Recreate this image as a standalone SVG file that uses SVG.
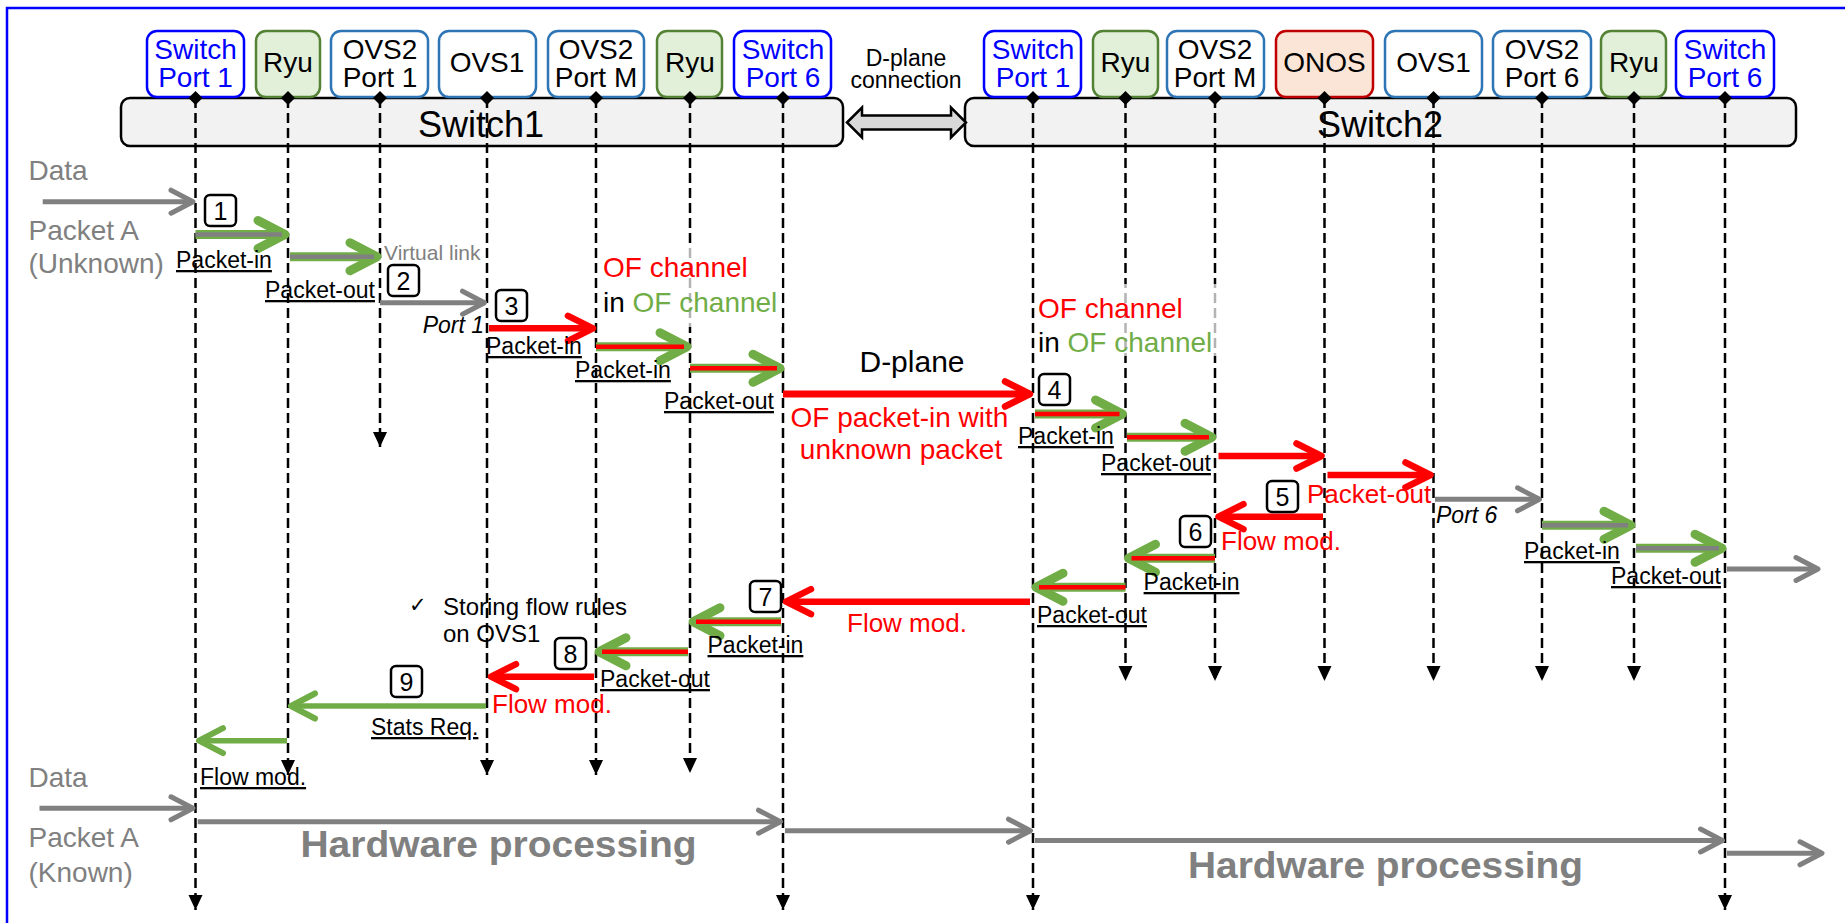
<svg xmlns="http://www.w3.org/2000/svg" width="1845" height="923" viewBox="0 0 1845 923">
<style>
text{font-family:"Liberation Sans",Arial,sans-serif}
.frame{fill:none;stroke:#0000FF;stroke-width:2.5}
.bar{fill:#F2F2F2;stroke:#000;stroke-width:2.5}
.bp{fill:#fff;stroke:#0000FF;stroke-width:2.5}
.bo{fill:#fff;stroke:#2E75B6;stroke-width:2.5}
.br{fill:#E2F0D9;stroke:#548235;stroke-width:2.5}
.bn{fill:#FBE5D6;stroke:#C00000;stroke-width:2.5}
.nt{font-size:28px;text-anchor:middle;fill:#000}
.nt.blue{fill:#0000FF}
.bt{font-size:36px;text-anchor:middle;fill:#000}
.life{stroke:#000;stroke-width:2.5;stroke-dasharray:10 5;marker-end:url(#mL)}
.dia{fill:#000}
.g9{stroke:#70AD47;stroke-width:9;marker-end:url(#mG)}
.gi{stroke:#808080;stroke-width:4.5}
.ri{stroke:#FF0000;stroke-width:4.5}
.rd{stroke:#FF0000;stroke-width:6.5;marker-end:url(#mR)}
.rd7{stroke:#FF0000;stroke-width:7;marker-end:url(#mR)}
.gy{stroke:#808080;stroke-width:5;marker-end:url(#mY)}
.gs{stroke:#70AD47;stroke-width:5.5;marker-end:url(#mS)}
.lbl{font-size:23px;fill:#000;text-decoration:underline}
.rl{font-size:26px;fill:#FF0000}
.it{font-size:23px;font-style:italic;fill:#000}
.side{font-size:28px;fill:#808080}
.num rect{fill:#fff;stroke:#000;stroke-width:2.5}
.num text{font-size:25px;text-anchor:middle;fill:#000}
.hw{font-size:36px;font-weight:bold;fill:#808080}
.of{font-size:28px}
.red{fill:#FF0000}
.grn{fill:#70AD47}
.blk{fill:#000}
.veil{fill:#fff;opacity:0.7}
</style>
<defs>
<marker id="mG" markerUnits="userSpaceOnUse" viewBox="-40 -20 44 40" markerWidth="44" markerHeight="40" refX="0" refY="0" orient="auto" overflow="visible"><path d="M-27,-14 L0,0 L-27,14" fill="none" stroke="#70AD47" stroke-width="9" stroke-linecap="round" stroke-linejoin="round"/></marker>
<marker id="mR" markerUnits="userSpaceOnUse" viewBox="-40 -20 44 40" markerWidth="44" markerHeight="40" refX="0" refY="0" orient="auto" overflow="visible"><path d="M-25,-12.5 L0,0 L-25,12.5" fill="none" stroke="#FF0000" stroke-width="6.5" stroke-linecap="round" stroke-linejoin="round"/></marker>
<marker id="mY" markerUnits="userSpaceOnUse" viewBox="-40 -20 44 40" markerWidth="44" markerHeight="40" refX="0" refY="0" orient="auto" overflow="visible"><path d="M-22,-11.5 L0,0 L-22,11.5" fill="none" stroke="#808080" stroke-width="5" stroke-linecap="round" stroke-linejoin="round"/></marker>
<marker id="mS" markerUnits="userSpaceOnUse" viewBox="-40 -20 44 40" markerWidth="44" markerHeight="40" refX="0" refY="0" orient="auto" overflow="visible"><path d="M-24,-12.5 L0,0 L-24,12.5" fill="none" stroke="#70AD47" stroke-width="6" stroke-linecap="round" stroke-linejoin="round"/></marker>
<marker id="mL" markerUnits="userSpaceOnUse" viewBox="-16 -8 17 16" markerWidth="17" markerHeight="16" refX="0" refY="0" orient="auto" overflow="visible"><path d="M-15,-7 L0,0 L-15,7 Z" fill="#000"/></marker>
</defs>

<rect class="frame" x="7" y="8" width="1850" height="930"/>

<g id="switch1"><rect class="bar" x="121" y="98" width="722" height="48" rx="9"/><text class="bt" x="481" y="137">Switch1</text></g>
<g id="switch2"><rect class="bar" x="965" y="98" width="831" height="48" rx="9"/><text class="bt" x="1380" y="137">Switch2</text></g>

<g id="dplane-connection">
<polygon points="847,122.5 862,107.5 862,115.5 951,115.5 951,107.5 966,122.5 951,137.5 951,129.5 862,129.5 862,137.5" fill="#D9D9D9" stroke="#000" stroke-width="2.5" stroke-linejoin="miter"/>
<text x="906" y="66" font-size="23" text-anchor="middle">D-plane</text>
<text x="906" y="88" font-size="23" text-anchor="middle">connection</text>
</g>

<g id="s1-port1"><rect class="bp" x="147" y="31" width="97" height="66" rx="10"/><text class="nt blue" x="195.5" y="59">Switch</text><text class="nt blue" x="195.5" y="87">Port 1</text><line class="life" x1="195.5" y1="98" x2="195.5" y2="910"/><path class="dia" d="M195.5,91 L202.5,98 L195.5,105 L188.5,98 Z"/></g>
<g id="s1-ryu-a"><rect class="br" x="256" y="31" width="64" height="66" rx="10"/><text class="nt" x="288" y="72">Ryu</text><line class="life" x1="288" y1="98" x2="288" y2="775"/><path class="dia" d="M288,91 L295,98 L288,105 L281,98 Z"/></g>
<g id="s1-ovs2-port1"><rect class="bo" x="331" y="31" width="97" height="66" rx="10"/><text class="nt" x="380" y="59">OVS2</text><text class="nt" x="380" y="87">Port 1</text><line class="life" x1="380" y1="98" x2="380" y2="447"/><path class="dia" d="M380,91 L387,98 L380,105 L373,98 Z"/></g>
<g id="s1-ovs1"><rect class="bo" x="439" y="31" width="97" height="66" rx="10"/><text class="nt" x="487" y="72">OVS1</text><line class="life" x1="487" y1="98" x2="487" y2="775"/><path class="dia" d="M487,91 L494,98 L487,105 L480,98 Z"/></g>
<g id="s1-ovs2-portm"><rect class="bo" x="548" y="31" width="96" height="66" rx="10"/><text class="nt" x="596" y="59">OVS2</text><text class="nt" x="596" y="87">Port M</text><line class="life" x1="596" y1="98" x2="596" y2="775"/><path class="dia" d="M596,91 L603,98 L596,105 L589,98 Z"/></g>
<g id="s1-ryu-b"><rect class="br" x="657" y="31" width="65" height="66" rx="10"/><text class="nt" x="690" y="72">Ryu</text><line class="life" x1="690" y1="98" x2="690" y2="773"/><path class="dia" d="M690,91 L697,98 L690,105 L683,98 Z"/></g>
<g id="s1-port6"><rect class="bp" x="734" y="31" width="97" height="66" rx="10"/><text class="nt blue" x="783" y="59">Switch</text><text class="nt blue" x="783" y="87">Port 6</text><line class="life" x1="783" y1="98" x2="783" y2="910"/><path class="dia" d="M783,91 L790,98 L783,105 L776,98 Z"/></g>
<g id="s2-port1"><rect class="bp" x="984" y="31" width="97" height="66" rx="10"/><text class="nt blue" x="1033" y="59">Switch</text><text class="nt blue" x="1033" y="87">Port 1</text><line class="life" x1="1033" y1="98" x2="1033" y2="910"/><path class="dia" d="M1033,91 L1040,98 L1033,105 L1026,98 Z"/></g>
<g id="s2-ryu-a"><rect class="br" x="1093" y="31" width="65" height="66" rx="10"/><text class="nt" x="1125.5" y="72">Ryu</text><line class="life" x1="1125.5" y1="98" x2="1125.5" y2="681"/><path class="dia" d="M1125.5,91 L1132.5,98 L1125.5,105 L1118.5,98 Z"/></g>
<g id="s2-ovs2-portm"><rect class="bo" x="1167" y="31" width="97" height="66" rx="10"/><text class="nt" x="1215" y="59">OVS2</text><text class="nt" x="1215" y="87">Port M</text><line class="life" x1="1215" y1="98" x2="1215" y2="681"/><path class="dia" d="M1215,91 L1222,98 L1215,105 L1208,98 Z"/></g>
<g id="s2-onos"><rect class="bn" x="1276" y="31" width="97" height="66" rx="10"/><text class="nt" x="1324.5" y="72">ONOS</text><line class="life" x1="1324.5" y1="98" x2="1324.5" y2="681"/><path class="dia" d="M1324.5,91 L1331.5,98 L1324.5,105 L1317.5,98 Z"/></g>
<g id="s2-ovs1"><rect class="bo" x="1385" y="31" width="97" height="66" rx="10"/><text class="nt" x="1433.5" y="72">OVS1</text><line class="life" x1="1433.5" y1="98" x2="1433.5" y2="681"/><path class="dia" d="M1433.5,91 L1440.5,98 L1433.5,105 L1426.5,98 Z"/></g>
<g id="s2-ovs2-port6"><rect class="bo" x="1493" y="31" width="98" height="66" rx="10"/><text class="nt" x="1542" y="59">OVS2</text><text class="nt" x="1542" y="87">Port 6</text><line class="life" x1="1542" y1="98" x2="1542" y2="681"/><path class="dia" d="M1542,91 L1549,98 L1542,105 L1535,98 Z"/></g>
<g id="s2-ryu-b"><rect class="br" x="1601" y="31" width="65" height="66" rx="10"/><text class="nt" x="1634" y="72">Ryu</text><line class="life" x1="1634" y1="98" x2="1634" y2="681"/><path class="dia" d="M1634,91 L1641,98 L1634,105 L1627,98 Z"/></g>
<g id="s2-port6"><rect class="bp" x="1676" y="31" width="98" height="66" rx="10"/><text class="nt blue" x="1725" y="59">Switch</text><text class="nt blue" x="1725" y="87">Port 6</text><line class="life" x1="1725" y1="98" x2="1725" y2="910"/><path class="dia" d="M1725,91 L1732,98 L1725,105 L1718,98 Z"/></g>

<g id="notes">
<rect class="veil" x="601" y="247" width="181" height="80"/>
<rect class="veil" x="1036" y="284" width="182" height="72"/>
<text class="side" x="28.5" y="180">Data</text>
<text class="side" x="28.5" y="240">Packet A</text>
<text class="side" x="28.5" y="273">(Unknown)</text>
<text class="side" x="28.5" y="787">Data</text>
<text class="side" x="28.5" y="847">Packet A</text>
<text class="side" x="28.5" y="882">(Known)</text>
<text class="of red" x="603" y="277">OF channel</text>
<text class="of" x="603" y="311.7"><tspan class="blk">in </tspan><tspan class="grn">OF channel</tspan></text>
<text class="of red" x="1038" y="318.3">OF channel</text>
<text class="of" x="1038" y="351.7"><tspan class="blk">in </tspan><tspan class="grn">OF channel</tspan></text>
<text x="912" y="371.7" font-size="30" text-anchor="middle">D-plane</text>
<text class="of red" x="899.5" y="426.7" text-anchor="middle">OF packet-in with</text>
<text class="of red" x="901" y="458.5" text-anchor="middle">unknown packet</text>
<text x="409" y="612" font-size="21" font-family="DejaVu Sans, sans-serif">✓</text>
<text x="443" y="615" font-size="24">Storing flow rules</text>
<text x="443" y="641.7" font-size="24">on OVS1</text>
<text class="hw" x="300.5" y="856.7" textLength="396" lengthAdjust="spacingAndGlyphs">Hardware processing</text>
<text class="hw" x="1188" y="878.3" textLength="395" lengthAdjust="spacingAndGlyphs">Hardware processing</text>
</g>

<g id="connectors">
<line class="gy" x1="42.7" y1="201.7" x2="193" y2="201.7"/>
<line class="g9" x1="195.5" y1="234.5" x2="285" y2="234.5"/><line class="gi" x1="195.5" y1="234.5" x2="282" y2="234.5"/>
<line class="g9" x1="290" y1="256.7" x2="377" y2="256.7"/><line class="gi" x1="290" y1="256.7" x2="374" y2="256.7"/>
<line class="gy" x1="380" y1="302.7" x2="484.5" y2="302.7"/>
<line class="rd" x1="489" y1="328.3" x2="593" y2="328.3"/>
<line class="g9" x1="596" y1="346.7" x2="687" y2="346.7"/><line class="ri" x1="596" y1="346.7" x2="684" y2="346.7"/>
<line class="g9" x1="690" y1="368.3" x2="780" y2="368.3"/><line class="ri" x1="690" y1="368.3" x2="777" y2="368.3"/>
<line class="rd7" x1="783" y1="394" x2="1030" y2="394"/>
<line class="g9" x1="1035" y1="414" x2="1122.5" y2="414"/><line class="ri" x1="1035" y1="414" x2="1119.5" y2="414"/>
<line class="g9" x1="1127" y1="437.3" x2="1212" y2="437.3"/><line class="ri" x1="1127" y1="437.3" x2="1209" y2="437.3"/>
<line class="rd" x1="1218.5" y1="456" x2="1321.5" y2="456"/>
<line class="rd" x1="1327.5" y1="475" x2="1430.5" y2="475"/>
<line class="gy" x1="1435" y1="499.3" x2="1539.5" y2="499.3"/>
<line class="g9" x1="1542" y1="525.3" x2="1631" y2="525.3"/><line class="gi" x1="1542" y1="525.3" x2="1628" y2="525.3"/>
<line class="g9" x1="1636" y1="548.3" x2="1722" y2="548.3"/><line class="gi" x1="1636" y1="548.3" x2="1719" y2="548.3"/>
<line class="gy" x1="1727" y1="569" x2="1818" y2="569"/>
<line class="rd" x1="1323" y1="516.7" x2="1218.5" y2="516.7"/>
<line class="g9" x1="1215" y1="558.3" x2="1128.5" y2="558.3"/><line class="ri" x1="1215" y1="558.3" x2="1131.5" y2="558.3"/>
<line class="g9" x1="1125.5" y1="587.3" x2="1036" y2="587.3"/><line class="ri" x1="1125.5" y1="587.3" x2="1039" y2="587.3"/>
<line class="rd" x1="1030" y1="601.7" x2="786" y2="601.7"/>
<line class="g9" x1="781" y1="621.7" x2="693" y2="621.7"/><line class="ri" x1="781" y1="621.7" x2="696" y2="621.7"/>
<line class="g9" x1="688" y1="651.7" x2="599" y2="651.7"/><line class="ri" x1="688" y1="651.7" x2="602" y2="651.7"/>
<line class="rd" x1="594" y1="676.7" x2="491" y2="676.7"/>
<line class="gs" x1="486" y1="706" x2="291" y2="706"/>
<line class="gs" x1="287" y1="740.7" x2="199" y2="740.7"/>
<line class="gy" x1="39.5" y1="808.3" x2="193" y2="808.3"/>
<line class="gy" x1="197.7" y1="821.7" x2="780.5" y2="821.7"/>
<line class="gy" x1="785" y1="830.7" x2="1030.5" y2="830.7"/>
<line class="gy" x1="1035" y1="840.5" x2="1722.5" y2="840.5"/>
<line class="gy" x1="1727" y1="853.3" x2="1822" y2="853.3"/>
</g>

<g id="numbers" class="num">
<rect x="205" y="195" width="31" height="31" rx="5"/><text x="220.5" y="219.5">1</text>
<rect x="388" y="265" width="31" height="31" rx="5"/><text x="403.5" y="289.5">2</text>
<rect x="496" y="290" width="31" height="31" rx="5"/><text x="511.5" y="314.5">3</text>
<rect x="1039" y="374" width="31" height="31" rx="5"/><text x="1054.5" y="398.5">4</text>
<rect x="1267" y="481" width="31" height="31" rx="5"/><text x="1282.5" y="505.5">5</text>
<rect x="1180" y="516" width="31" height="31" rx="5"/><text x="1195.5" y="540.5">6</text>
<rect x="750" y="581" width="31" height="31" rx="5"/><text x="765.5" y="605.5">7</text>
<rect x="555" y="638" width="31" height="31" rx="5"/><text x="570.5" y="662.5">8</text>
<rect x="391" y="666" width="31" height="31" rx="5"/><text x="406.5" y="690.5">9</text>
</g>

<g id="labels">
<text x="384" y="260" font-size="21" fill="#808080">Virtual link</text>
<text class="lbl" x="176" y="268">Packet-in</text>
<text class="lbl" x="265" y="298">Packet-out</text>
<text class="it" x="484" y="333" text-anchor="end">Port 1</text>
<text class="lbl" x="486" y="354">Packet-in</text>
<text class="lbl" x="575" y="378">Packet-in</text>
<text class="lbl" x="664" y="409">Packet-out</text>
<text class="lbl" x="1018" y="444">Packet-in</text>
<text class="lbl" x="1101" y="471">Packet-out</text>
<text class="rl" x="1307" y="503">Packet-out</text>
<text class="it" x="1436" y="523">Port 6</text>
<text class="rl" x="1221" y="550">Flow mod.</text>
<text class="lbl" x="1524" y="559">Packet-in</text>
<text class="lbl" x="1611" y="584">Packet-out</text>
<text class="lbl" x="1143.6" y="590">Packet-in</text>
<text class="lbl" x="1037" y="623">Packet-out</text>
<text class="rl" x="847" y="632">Flow mod.</text>
<text class="lbl" x="707.5" y="653">Packet-in</text>
<text class="lbl" x="600" y="687">Packet-out</text>
<text class="rl" x="492" y="713">Flow mod.</text>
<text class="lbl" x="371" y="735">Stats Req.</text>
<text class="lbl" x="200" y="785">Flow mod.</text>
</g>
</svg>
